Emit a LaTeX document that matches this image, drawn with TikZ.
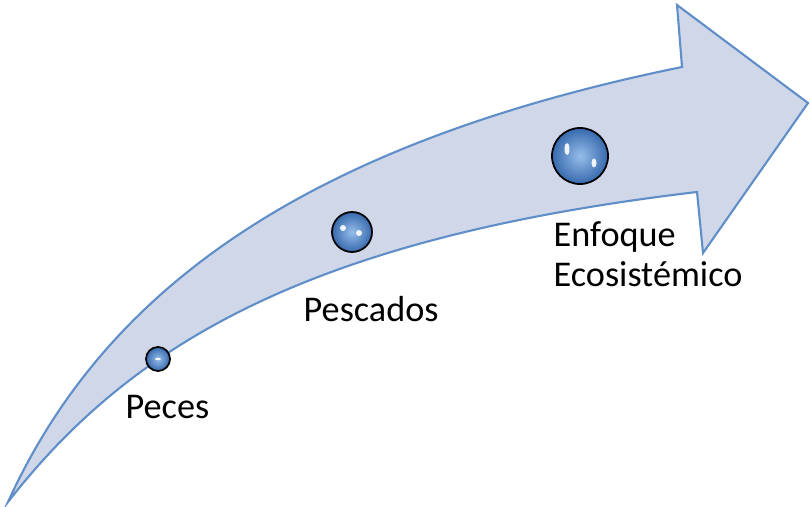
\documentclass[tikz,border=0pt]{standalone}
\usepackage{fontspec}
\setmainfont{Carlito}
\definecolor{flechaRelleno}{RGB}{207,215,233}
\definecolor{flechaBorde}{RGB}{95,142,200}
\definecolor{burbujaClaro}{RGB}{150,190,235}
\definecolor{burbujaOscuro}{RGB}{55,105,172}
\tikzset{
  burbuja/.style={circle, draw=black, line width=0.5pt, inner color=burbujaClaro, outer color=burbujaOscuro, inner sep=0pt},
  etiqueta/.style={anchor=base west, inner sep=0pt, font=\fontsize{10.3}{11.4}\selectfont, align=left},
  brillo/.style={fill=white, opacity=0.9}
}
\begin{document}
\begin{tikzpicture}[x=0.01cm, y=-0.01cm]
    \useasboundingbox (0,0) rectangle (810,507);

    % Dibuja la flecha curva
    \draw[flechaBorde, fill=flechaRelleno, line width=0.6pt, line join=miter]
      (8,502) .. controls (100,300) and (290,147) .. (682,67)
      -- (677,5) -- (808,103) -- (703,253) -- (697,192)
      .. controls (316,237) and (134,340) .. (8,502) -- cycle;

    % Dibuja las burbujas
    \node[burbuja, minimum size=0.24cm] (bPeces) at (158,359) {};
    \node[burbuja, minimum size=0.40cm] (bPescados) at (352,232) {};
    \node[burbuja, minimum size=0.56cm] (bEnfoque) at (580,156) {};

    % Brillos
    \fill[brillo] (bPeces.center) ellipse [x radius=0.03cm, y radius=0.012cm];
    \fill[brillo] ([shift={(-9,-4)}]bPescados.center) circle [radius=0.03cm];
    \fill[brillo] ([shift={(7,1)}]bPescados.center) circle [radius=0.03cm];
    \fill[brillo] ([shift={(-13,-7)}]bEnfoque.center) ellipse [x radius=0.025cm, y radius=0.06cm];
    \fill[brillo] ([shift={(14,7)}]bEnfoque.center) ellipse [x radius=0.025cm, y radius=0.045cm];

    % Etiquetas
    \node[etiqueta] (lPeces) at (125,418) {Peces};
    \node[etiqueta] (lPescados) at (303,322) {Pescados};
    \node[etiqueta] (lEnfoque) at (553,287) {Enfoque\\Ecosistémico};
\end{tikzpicture}
\end{document}
